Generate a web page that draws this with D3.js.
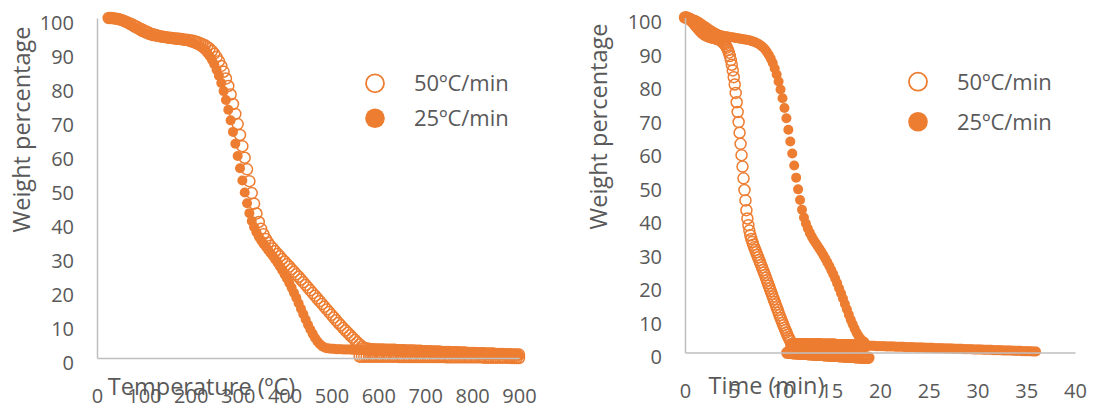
<!DOCTYPE html>
<html><head><meta charset="utf-8">
<script src="https://cdn.jsdelivr.net/npm/d3@7"></script>
<style>body{margin:0;background:#fff}</style>
</head><body><svg id="c" width="1094" height="412"></svg>
<script>
// ---------- DATA ----------
const seriesNames = ["50ºC/min", "25ºC/min"];
const xTicksTemp = [0,100,200,300,400,500,600,700,800,900];
const xTicksTime = [0,5,10,15,20,25,30,35,40];
const yTicks = [0,10,20,30,40,50,60,70,80,90,100];

const temperatureC = [25,30,35,40,45,50,55,60,65,70,75,80,85,90,95,100,105,110,115,120,125,130,135,140,145,150,155,160,165,170,175,180,185,190,195,200,205,210,215,220,225,230,235,240,245,250,255,260,265,270,275,280,285,290,295,300,305,310,315,320,325,330,335,340,345,350,355,360,365,370,375,380,385,390,395,400,405,410,415,420,425,430,435,440,445,450,455,460,465,470,475,480,485,490,495,500,505,510,515,520,525,530,535,540,545,550,555,560,565,570,575,580,585,590,595,600,605,610,615,620,625,630,635,640,645,650,655,660,665,670,675,680,685,690,695,700,705,710,715,720,725,730,735,740,745,750,755,760,765,770,775,780,785,790,795,800,805,810,815,820,825,830,835,840,845,850,855,860,865,870,875,880,885,890,895,900];

// 50ºC/min weight (%) at temperatureC
const weight50 = [100.0,100.0,99.9,99.8,99.7,99.5,99.3,99.0,98.7,98.4,
98.1,97.7,97.4,97.0,96.7,96.3,96.0,95.7,95.4,95.2,
95.0,94.8,94.6,94.5,94.4,94.3,94.2,94.1,94.0,94.0,
93.9,93.8,93.7,93.6,93.5,93.4,93.3,93.1,92.9,92.6,
92.3,92.0,91.5,91.0,90.3,89.5,88.5,87.3,85.9,84.2,
82.2,80.0,77.5,74.7,71.8,68.8,65.6,62.3,58.9,55.5,
52.0,48.5,45.4,42.5,40.0,38.0,36.4,35.0,33.9,33.0,
32.2,31.4,30.6,29.9,29.1,28.4,27.6,26.9,26.1,25.4,
24.6,23.9,23.1,22.3,21.5,20.7,19.9,19.1,18.3,17.5,
16.7,15.9,15.1,14.3,13.5,12.7,11.9,11.1,10.3,9.6,
8.8,8.1,7.4,6.7,6.0,5.3,4.6,4.0,3.4,
3.0,2.8,2.7,2.6,2.6,2.5,2.5,2.5,2.5,2.4,2.4,2.4,2.4,2.4,2.3,2.3,2.3,2.3,2.2,2.2,2.2,2.2,2.1,2.1,2.1,2.0,2.0,2.0,2.0,1.9,1.9,1.9,1.9,1.8,1.8,1.8,1.8,1.7,1.7,1.7,1.7,1.6,1.6,1.6,1.5,1.5,1.5,1.5,1.4,1.4,1.4,1.4,1.3,1.3,1.3,1.3,1.2,1.2,1.2,1.2,1.1,1.1,1.1,1.0,1.0,1.0,1.0];

// 50ºC/min lower residue trace, temperatures 560..900
const weight50Lower = [0.4,0.4,0.4,0.4,0.4,0.4,0.4,0.4,0.4,0.4,0.4,0.4,0.4,0.4,0.4,0.4,0.4,
0.3,0.3,0.3,0.3,0.3,0.3,0.3,0.3,0.3,0.3,0.3,0.3,0.3,0.3,0.3,0.3,0.3,0.3,0.3,0.3,
0.2,0.2,0.2,0.2,0.2,0.2,0.2,0.2,0.2,0.2,0.2,0.2,0.2,0.2,0.2,0.2,
0.1,0.1,0.1,0.1,0.1,0.1,0.1,0.1,0.1,0.1,0.1,0.1,
0.0,0.0,0.0,0.0];

// 25ºC/min weight (%) at temperatureC
const weight25 = [100.0,99.9,99.8,99.7,99.5,99.3,99.0,98.7,98.3,97.9,
97.5,97.1,96.7,96.3,95.9,95.6,95.3,95.0,94.8,94.6,
94.5,94.4,94.3,94.2,94.1,94.0,93.9,93.8,93.7,93.6,
93.5,93.4,93.3,93.2,93.0,92.8,92.6,92.3,92.0,91.6,
91.1,90.5,89.7,88.8,87.7,86.4,84.8,83.0,80.9,78.5,
75.9,73.0,69.9,66.5,63.0,59.4,55.8,52.2,48.7,45.5,
42.6,40.3,38.5,37.0,35.7,34.6,33.6,32.7,31.8,30.9,
30.0,29.0,28.0,26.9,25.8,24.6,23.4,22.1,20.7,19.2,
17.7,16.1,14.5,12.9,11.3,9.8,8.4,7.1,5.9,4.9,
4.1,3.5,3.1,
2.9,2.8,2.7,2.7,2.6,
2.6,2.6,2.5,2.5,2.5,2.5,2.4,2.4,2.4,2.4,2.3,2.3,2.3,2.3,2.2,2.2,2.2,2.2,2.1,2.1,2.1,2.1,2.0,2.0,2.0,2.0,1.9,1.9,1.9,1.9,1.8,1.8,1.8,1.8,1.7,1.7,1.7,1.7,1.6,1.6,1.6,1.6,1.5,1.5,1.5,1.5,1.4,1.4,1.4,1.4,1.3,1.3,1.3,1.3,1.2,1.2,1.2,1.2,1.1,1.1,1.1,1.1,1.0,1.0,1.0,1.0,1.0,0.9,0.9,0.9,0.9,0.9,0.9,0.9,0.9,0.9,0.9,0.9];

// time axis data (min)
const time50 = [0,0.1,0.2,0.3,0.4,0.5,0.6,0.7,0.8,0.9,1,1.1,1.2,1.3,1.4,1.5,1.6,1.7,1.8,1.9,2,2.1,2.2,2.3,2.4,2.5,2.6,2.7,2.8,2.9,3,3.1,3.2,3.3,3.4,3.5,3.6,3.7,3.8,3.9,4,4.1,4.2,4.3,4.4,4.5,4.6,4.7,4.8,4.9,5,5.1,5.2,5.3,5.4,5.5,5.6,5.7,5.8,5.9,6,6.1,6.2,6.3,6.4,6.5,6.6,6.7,6.8,6.9,7,7.1,7.2,7.3,7.4,7.5,7.6,7.7,7.8,7.9,8,8.1,8.2,8.3,8.4,8.5,8.6,8.7,8.8,8.9,9,9.1,9.2,9.3,9.4,9.5,9.6,9.7,9.8,9.9,10,10.1,10.2,10.3,10.4,10.5,10.6,10.7,10.8];
const time50Upper = [10.9,11,11.1,11.2,11.3,11.4,11.5,11.6,11.7,11.8,11.9,12,12.1,12.2,12.3,12.4,12.5,12.6,12.7,12.8,12.9,13,13.1,13.2,13.3,13.4,13.5,13.6,13.7,13.8,13.9,14,14.1,14.2,14.3,14.4,14.5,14.6,14.7,14.8,14.9,15,15.1,15.2,15.3,15.4,15.5,15.6,15.7,15.8,15.9,16,16.1,16.2,16.3,16.4,16.5,16.6,16.7,16.8,16.9,17,17.1,17.2,17.3,17.4,17.5,17.6,17.7,17.8,17.9,18,18.1,18.2,18.3,18.4,18.5];
const weight50UpperTime = [2.5,2.5,2.5,2.5,2.5,2.5,2.5,2.5,2.5,2.5,2.5,2.5,2.5,2.5,2.5,2.5,
2.4,2.4,2.4,2.4,2.4,2.4,2.4,2.4,2.4,2.4,2.4,2.4,2.4,2.4,2.4,
2.3,2.3,2.3,2.3,2.3,2.3,2.3,2.3,2.3,2.3,2.3,2.3,2.3,2.3,2.3,
2.2,2.2,2.2,2.2,2.2,2.2,2.2,2.2,2.2,2.2,2.2,2.2,2.2,2.2,2.2,
2.1,2.1,2.1,2.1,2.1,2.1,2.1,2.1,2.1,2.1,2.1,2.1,2.1,2.1,2.1,2.1];
const time50Lower = [10.5,10.6,10.7,10.8,10.9,11,11.1,11.2,11.3,11.4,11.5,11.6,11.7,11.8,11.9,12,12.1,12.2,12.3,12.4,12.5,12.6,12.7,12.8,12.9,13,13.1,13.2,13.3,13.4,13.5,13.6,13.7,13.8,13.9,14,14.1,14.2,14.3,14.4,14.5,14.6,14.7,14.8,14.9,15,15.1,15.2,15.3,15.4,15.5,15.6,15.7,15.8,15.9,16,16.1,16.2,16.3,16.4,16.5,16.6,16.7,16.8,16.9,17,17.1,17.2,17.3,17.4,17.5,17.6,17.7,17.8,17.9,18,18.1,18.2,18.3,18.4,18.5,18.6,18.7,18.8];
const weight50LowerTime = [-0.1,-0.1,-0.1,-0.1,-0.1,
-0.2,-0.2,-0.2,-0.2,-0.2,
-0.3,-0.3,-0.3,-0.3,-0.3,-0.3,
-0.4,-0.4,-0.4,-0.4,-0.4,
-0.5,-0.5,-0.5,-0.5,-0.5,
-0.6,-0.6,-0.6,-0.6,-0.6,
-0.7,-0.7,-0.7,-0.7,-0.7,-0.7,
-0.8,-0.8,-0.8,-0.8,-0.8,
-0.9,-0.9,-0.9,-0.9,-0.9,
-1.0,-1.0,-1.0,-1.0,-1.0,-1.0,
-1.1,-1.1,-1.1,-1.1,-1.1,
-1.2,-1.2,-1.2,-1.2,-1.2,
-1.3,-1.3,-1.3,-1.3,-1.3,-1.3,
-1.4,-1.4,-1.4,-1.4,-1.4,
-1.5,-1.5,-1.5,-1.5,-1.5,
-1.6,-1.6,-1.6,-1.6,-1.6];
const time25 = [0,0.2,0.4,0.6,0.8,1,1.2,1.4,1.6,1.8,2,2.2,2.4,2.6,2.8,3,3.2,3.4,3.6,3.8,4,4.2,4.4,4.6,4.8,5,5.2,5.4,5.6,5.8,6,6.2,6.4,6.6,6.8,7,7.2,7.4,7.6,7.8,8,8.2,8.4,8.6,8.8,9,9.2,9.4,9.6,9.8,10,10.2,10.4,10.6,10.8,11,11.2,11.4,11.6,11.8,12,12.2,12.4,12.6,12.8,13,13.2,13.4,13.6,13.8,14,14.2,14.4,14.6,14.8,15,15.2,15.4,15.6,15.8,16,16.2,16.4,16.6,16.8,17,17.2,17.4,17.6,17.8,18,18.2,18.4];
const time25Tail = [18.6,18.8,19,19.2,19.4,19.6,19.8,20,20.2,20.4,20.6,20.8,21,21.2,21.4,21.6,21.8,22,22.2,22.4,22.6,22.8,23,23.2,23.4,23.6,23.8,24,24.2,24.4,24.6,24.8,25,25.2,25.4,25.6,25.8,26,26.2,26.4,26.6,26.8,27,27.2,27.4,27.6,27.8,28,28.2,28.4,28.6,28.8,29,29.2,29.4,29.6,29.8,30,30.2,30.4,30.6,30.8,31,31.2,31.4,31.6,31.8,32,32.2,32.4,32.6,32.8,33,33.2,33.4,33.6,33.8,34,34.2,34.4,34.6,34.8,35,35.2,35.4,35.6,35.8,36];
const weight25TailTime = [2.0,2.0,2.0,2.0,2.0,1.9,1.9,1.9,1.9,1.9,1.8,1.8,1.8,1.8,1.8,1.7,1.7,1.7,1.7,1.7,
1.6,1.6,1.6,1.6,1.6,1.5,1.5,1.5,1.5,1.5,1.4,1.4,1.4,1.4,1.4,1.3,1.3,1.3,1.3,1.3,
1.2,1.2,1.2,1.2,1.2,1.1,1.1,1.1,1.1,1.1,1.0,1.0,1.0,1.0,1.0,0.9,0.9,0.9,0.9,0.9,
0.8,0.8,0.8,0.8,0.8,0.7,0.7,0.7,0.7,0.7,0.6,0.6,0.6,0.6,0.6,0.5,0.5,0.5,0.5,0.5,
0.4,0.4,0.4,0.4,0.4,0.3,0.3,0.3];

// ---------- DRAWING ----------
const ORANGE = "#ED7D31";
const AXIS = "#BFBFBF";
const TEXT = "#595959";
const FONT = "'Open Sans', sans-serif";
const svg = d3.select("#c");
svg.append("rect").attr("width",1094).attr("height",412).attr("fill","#fff");

function panel(o) {
  const g = svg.append("g");
  // open series (drawn first)
  o.open.forEach(([xs, ys]) => {
    g.append("g").selectAll("circle").data(d3.zip(xs, ys)).join("circle")
      .attr("cx", d => o.x(d[0])).attr("cy", d => o.y(d[1]))
      .attr("r", 5.5).attr("fill", "none").attr("stroke", ORANGE).attr("stroke-width", 1.5);
  });
  // filled series
  o.filled.forEach(([xs, ys]) => {
    g.append("g").selectAll("circle").data(d3.zip(xs, ys)).join("circle")
      .attr("cx", d => o.x(d[0])).attr("cy", d => o.y(d[1]))
      .attr("r", 5).attr("fill", ORANGE);
  });
  // axes on top
  const ax = g.append("g").attr("transform", `translate(0,${o.y(0)})`)
    .call(d3.axisBottom(o.x).tickValues(o.xTicks).tickSize(0).tickSizeOuter(0).tickPadding(31));
  ax.attr("font-family", null).attr("font-size", null);
  ax.select(".domain").attr("stroke", AXIS).attr("stroke-width", 1.5);
  ax.selectAll("text").attr("fill", TEXT).attr("font-family", FONT).attr("font-size", 20);
  const ay = g.append("g").attr("transform", `translate(${o.x(0)},0)`)
    .call(d3.axisLeft(o.y).tickValues(yTicks).tickSize(0).tickSizeOuter(0).tickPadding(23));
  ay.attr("font-family", null).attr("font-size", null);
  ay.select(".domain").attr("stroke", AXIS).attr("stroke-width", 1.5);
  ay.selectAll("text").attr("fill", TEXT).attr("font-family", FONT).attr("font-size", 20).attr("dy", "0.55em");
  // titles
  g.append("text").attr("x", o.xTitle[0]).attr("y", o.xTitle[1]).attr("text-anchor", "middle")
    .attr("fill", TEXT).attr("font-family", FONT).attr("font-size", 23.5).text(o.xLabel);
  g.append("text").attr("transform", `translate(${o.yTitle[0]},${o.yTitle[1]}) rotate(-90)`)
    .attr("text-anchor", "middle").attr("fill", TEXT).attr("font-family", FONT).attr("font-size", 23.5)
    .text("Weight percentage");
  // legend
  seriesNames.forEach((name, i) => {
    const [lx, ly] = o.legend[i];
    const c = g.append("circle").attr("cx", lx).attr("cy", ly);
    if (i === 0) c.attr("r", 9).attr("fill", "#fff").attr("stroke", ORANGE).attr("stroke-width", 1.8);
    else c.attr("r", 9.8).attr("fill", ORANGE);
    g.append("text").attr("x", lx + 39).attr("y", ly + 8).attr("fill", TEXT)
      .attr("font-family", FONT).attr("font-size", 22).text(name);
  });
}

const xL = d3.scaleLinear().domain([0, 900]).range([97, 519]);
const yL = d3.scaleLinear().domain([0, 100]).range([358, 18]);
const xR = d3.scaleLinear().domain([0, 40]).range([685, 1075]);
const yR = d3.scaleLinear().domain([0, 100]).range([352.5, 17.5]);

panel({
  x: xL, y: yL, xTicks: xTicksTemp, xLabel: "Temperature (ºC)",
  xTitle: [201.5, 395], yTitle: [29.8, 129.5],
  legend: [[375, 83.3], [375, 118.3]],
  open: [[temperatureC, weight50], [temperatureC.slice(107), weight50Lower]],
  filled: [[temperatureC, weight25]]
});
panel({
  x: xR, y: yR, xTicks: xTicksTime, xLabel: "Time (min)",
  xTitle: [766.5, 394], yTitle: [607, 126.5],
  legend: [[918, 81.7], [918, 121.7]],
  open: [[time50, weight50.slice(0, 109)], [time50Upper, weight50UpperTime], [time50Lower, weight50LowerTime]],
  filled: [[time25, weight25.slice(0, 93)], [time25Tail, weight25TailTime]]
});
</script>
</body></html>
